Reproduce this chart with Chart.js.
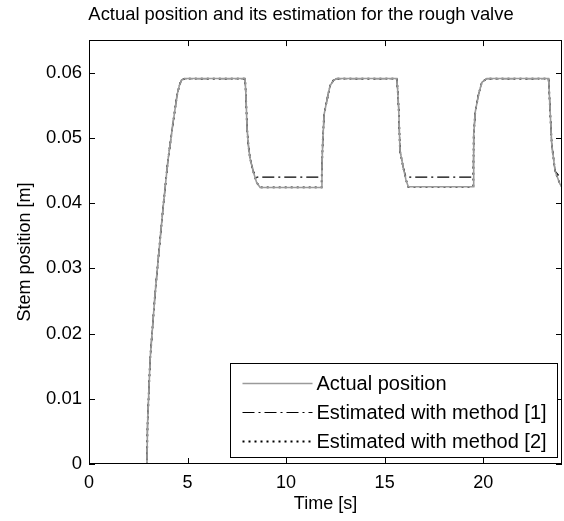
<!DOCTYPE html>
<html>
<head>
<meta charset="utf-8">
<script src="https://cdn.jsdelivr.net/npm/chart.js@4/dist/chart.umd.min.js"></script>
<style>
  html, body { margin: 0; padding: 0; background: #fff; }
  canvas { display: block; }
</style>
</head>
<body>
<canvas id="valveChart" width="564" height="521"></canvas>
<script>
// time samples [s], shared by the three curves
var time = [1, 2.94, 2.97, 3.1, 3.35, 3.5, 3.75, 4.0, 4.25, 4.47, 4.6, 4.7, 4.87,
    7.92, 7.97, 8.02, 8.1, 8.17, 8.33, 8.5, 8.68,
    11.8, 11.82, 11.86, 11.93, 12.06, 12.23, 12.4, 12.57,
    15.62, 15.67, 15.72, 15.78, 15.95, 16.08, 16.2,
    19.5, 19.52, 19.6, 19.76, 19.93, 20.18,
    23.32, 23.4, 23.48, 23.65, 23.9, 24];

// stem position [m]
var actual = [0, 0, 0.006, 0.016, 0.026, 0.031, 0.039, 0.0464, 0.052, 0.0566, 0.0582, 0.0589, 0.0591,
    0.0591, 0.056, 0.0514, 0.0485, 0.0469, 0.0449, 0.0432, 0.0424,
    0.0424, 0.0454, 0.0495, 0.0536, 0.0556, 0.058, 0.0588, 0.0591,
    0.0591, 0.057, 0.054, 0.048, 0.0454, 0.0436, 0.0425,
    0.0425, 0.0505, 0.054, 0.0566, 0.0585, 0.0591,
    0.0591, 0.054, 0.049, 0.0449, 0.0429, 0.0425];

var method1 = [0, 0, 0.006, 0.016, 0.026, 0.031, 0.039, 0.0464, 0.052, 0.0566, 0.0582, 0.0589, 0.0591,
    0.0591, 0.056, 0.0514, 0.0485, 0.0469, 0.0449, 0.044, 0.044,
    0.044, 0.0454, 0.0495, 0.0536, 0.0556, 0.058, 0.0588, 0.0591,
    0.0591, 0.057, 0.054, 0.048, 0.0454, 0.044, 0.044,
    0.044, 0.0505, 0.054, 0.0566, 0.0585, 0.0591,
    0.0591, 0.054, 0.049, 0.0449, 0.044, 0.044];

var method2 = [0, 0, 0.006, 0.016, 0.026, 0.031, 0.039, 0.0464, 0.052, 0.0566, 0.0582, 0.0589, 0.0591,
    0.0591, 0.056, 0.0514, 0.0485, 0.0469, 0.0449, 0.0432, 0.0424,
    0.0424, 0.0454, 0.0495, 0.0536, 0.0556, 0.058, 0.0588, 0.0591,
    0.0591, 0.057, 0.054, 0.048, 0.0454, 0.0436, 0.0425,
    0.0425, 0.0505, 0.054, 0.0566, 0.0585, 0.0591,
    0.0591, 0.054, 0.049, 0.0449, 0.0429, 0.0425];

var seriesLabels = ['Actual position', 'Estimated with method [1]', 'Estimated with method [2]'];

function points(ys) {
    return time.map(function (t, i) { return { x: t, y: ys[i] }; });
}

const FONT = 'Liberation Sans, Arial, sans-serif';

// matlab style box with inward ticks on all four sides, plus the legend inside the axes
const boxPlugin = {
    id: 'box',
    afterDraw(chart) {
        const ctx = chart.ctx;
        const a = chart.chartArea;
        const xs = chart.scales.x, ys = chart.scales.y;
        const tl = 6;
        ctx.save();
        ctx.strokeStyle = '#000';
        ctx.lineWidth = 1;
        ctx.beginPath();
        xs.ticks.forEach(function (t) {
            const px = Math.round(xs.getPixelForValue(t.value)) + 0.5;
            ctx.moveTo(px, a.bottom); ctx.lineTo(px, a.bottom - tl);
            ctx.moveTo(px, a.top); ctx.lineTo(px, a.top + tl);
        });
        ys.ticks.forEach(function (t) {
            const py = Math.round(ys.getPixelForValue(t.value)) + 0.5;
            ctx.moveTo(a.left, py); ctx.lineTo(a.left + tl, py);
            ctx.moveTo(a.right, py); ctx.lineTo(a.right - tl, py);
        });
        ctx.stroke();
        ctx.strokeRect(Math.round(a.left) + 0.5, Math.round(a.top) + 0.5,
            Math.round(a.right - a.left) - 1, Math.round(a.bottom - a.top) - 1);

        const w = 327, h = 94;
        const lx = Math.round(a.right) - 5 - w + 0.5, ly = Math.round(a.bottom) - 7 - h + 0.5;
        ctx.fillStyle = '#fff';
        ctx.fillRect(lx, ly, w, h);
        ctx.strokeRect(lx, ly, w, h);
        ctx.font = '20px ' + FONT;
        ctx.textBaseline = 'middle';
        ctx.textAlign = 'left';
        chart.data.datasets.forEach(function (ds, i) {
            const ry = Math.round(ly + 19 + i * 29) + 0.5;
            ctx.save();
            ctx.strokeStyle = ds.borderColor;
            ctx.lineWidth = ds.borderWidth;
            ctx.setLineDash(ds.borderDash || []);
            ctx.beginPath();
            ctx.moveTo(lx + 12, ry); ctx.lineTo(lx + 82, ry);
            ctx.stroke();
            ctx.restore();
            ctx.fillStyle = '#000';
            ctx.fillText(ds.label, lx + 86, ry + 1);
        });
        ctx.restore();
    }
};

new Chart(document.getElementById('valveChart').getContext('2d'), {
    type: 'line',
    data: {
        datasets: [
            {
                label: seriesLabels[0],
                data: points(actual),
                borderColor: '#9a9a9a',
                borderWidth: 1.6,
                pointRadius: 0,
                fill: false
            },
            {
                label: seriesLabels[1],
                data: points(method1),
                borderColor: '#000',
                borderWidth: 1.2,
                borderDash: [12, 4, 2, 4],
                pointRadius: 0,
                fill: false
            },
            {
                label: seriesLabels[2],
                data: points(method2),
                borderColor: '#000',
                borderWidth: 1.8,
                borderDash: [2, 4],
                pointRadius: 0,
                fill: false
            }
        ]
    },
    options: {
        responsive: false,
        animation: false,
        // left padding moves the title centre to the right, like the original
        layout: { padding: { left: 40, right: 2, top: 0, bottom: 0 } },
        plugins: {
            legend: { display: false },
            tooltip: { enabled: false },
            title: {
                display: true,
                text: 'Actual position and its estimation for the rough valve',
                color: '#000',
                font: { family: FONT, size: 18.4, weight: 'normal' },
                padding: { top: 4, bottom: 14 }
            }
        },
        scales: {
            x: {
                type: 'linear',
                min: 0,
                max: 24,
                grid: { display: false, drawTicks: false },
                border: { display: false },
                ticks: {
                    stepSize: 5,
                    includeBounds: false,
                    maxRotation: 0,
                    color: '#000',
                    padding: 8,
                    font: { family: FONT, size: 18 }
                },
                title: {
                    display: true,
                    text: 'Time [s]',
                    color: '#000',
                    font: { family: FONT, size: 18 },
                    padding: { top: 0, bottom: 6 }
                },
                afterFit: function (s) { s.height = 57; }
            },
            y: {
                type: 'linear',
                min: 0,
                max: 0.065,
                grid: { display: false, drawTicks: false },
                border: { display: false },
                ticks: {
                    stepSize: 0.01,
                    includeBounds: false,
                    color: '#000',
                    padding: 7,
                    font: { family: FONT, size: 18.5 },
                    callback: function (v) { return v === 0 ? '0' : v.toFixed(2); }
                },
                title: {
                    display: true,
                    text: 'Stem position [m]',
                    color: '#000',
                    font: { family: FONT, size: 18 },
                    padding: { top: -26, bottom: 0 }
                },
                afterFit: function (s) { s.width = 49; }
            }
        }
    },
    plugins: [boxPlugin]
});
</script>
</body>
</html>
